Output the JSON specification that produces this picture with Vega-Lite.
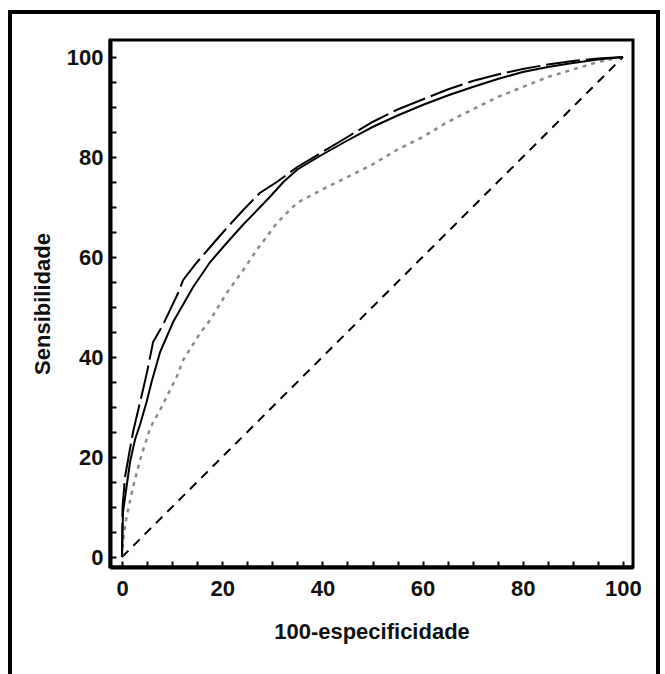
{
  "$schema": "https://vega.github.io/schema/vega-lite/v6.json",
  "autosize": "none",
  "width": 523,
  "height": 527,
  "padding": {"left": 110, "top": 40, "right": 32, "bottom": 107},
  "background": "white",
  "config": {
    "view": {"stroke": "black", "strokeWidth": 3},
    "font": "Liberation Sans",
    "axis": {
      "domain": true,
      "domainColor": "black",
      "domainWidth": 4,
      "grid": false,
      "tickColor": "black",
      "tickWidth": 2,
      "tickSize": -6,
      "labelColor": "#111",
      "labelFont": "Liberation Sans",
      "labelFontSize": 22,
      "labelFontWeight": "bold",
      "titleFont": "Liberation Sans",
      "titleFontSize": 22,
      "titleFontWeight": "bold",
      "titleColor": "#111"
    }
  },
  "datasets": {
    "curves": [
      {"serie": "solida", "x": 0, "y": 0},
      {"serie": "solida", "x": 0.2, "y": 9},
      {"serie": "solida", "x": 0.9, "y": 14},
      {"serie": "solida", "x": 1.6, "y": 19},
      {"serie": "solida", "x": 2.6, "y": 23.5},
      {"serie": "solida", "x": 3.6, "y": 26.5},
      {"serie": "solida", "x": 4.9, "y": 31},
      {"serie": "solida", "x": 5.9, "y": 35},
      {"serie": "solida", "x": 7.6, "y": 41},
      {"serie": "solida", "x": 10.2, "y": 47},
      {"serie": "solida", "x": 14.2, "y": 54},
      {"serie": "solida", "x": 17.6, "y": 59},
      {"serie": "solida", "x": 20.9, "y": 62.8},
      {"serie": "solida", "x": 24.2, "y": 66.5},
      {"serie": "solida", "x": 27, "y": 69.4},
      {"serie": "solida", "x": 29.5, "y": 72},
      {"serie": "solida", "x": 32.2, "y": 75},
      {"serie": "solida", "x": 35, "y": 77.5},
      {"serie": "solida", "x": 40, "y": 80.5},
      {"serie": "solida", "x": 45, "y": 83.3},
      {"serie": "solida", "x": 50, "y": 86},
      {"serie": "solida", "x": 55, "y": 88.3},
      {"serie": "solida", "x": 60, "y": 90.4},
      {"serie": "solida", "x": 65, "y": 92.3},
      {"serie": "solida", "x": 70, "y": 94},
      {"serie": "solida", "x": 75, "y": 95.6},
      {"serie": "solida", "x": 80, "y": 97},
      {"serie": "solida", "x": 85, "y": 98},
      {"serie": "solida", "x": 90, "y": 98.8},
      {"serie": "solida", "x": 95, "y": 99.5},
      {"serie": "solida", "x": 100, "y": 100},
      {"serie": "tracejada", "x": 0, "y": 0},
      {"serie": "tracejada", "x": 0.1, "y": 10},
      {"serie": "tracejada", "x": 0.6, "y": 16},
      {"serie": "tracejada", "x": 1.3, "y": 20},
      {"serie": "tracejada", "x": 2.2, "y": 25},
      {"serie": "tracejada", "x": 2.9, "y": 28},
      {"serie": "tracejada", "x": 4.2, "y": 33.5},
      {"serie": "tracejada", "x": 5, "y": 37},
      {"serie": "tracejada", "x": 6.2, "y": 43},
      {"serie": "tracejada", "x": 8.2, "y": 46.5},
      {"serie": "tracejada", "x": 11.2, "y": 52.8},
      {"serie": "tracejada", "x": 12.2, "y": 55.4},
      {"serie": "tracejada", "x": 15, "y": 59},
      {"serie": "tracejada", "x": 17.6, "y": 62},
      {"serie": "tracejada", "x": 20.2, "y": 65},
      {"serie": "tracejada", "x": 24.2, "y": 69.4},
      {"serie": "tracejada", "x": 27.5, "y": 72.8},
      {"serie": "tracejada", "x": 30.9, "y": 75},
      {"serie": "tracejada", "x": 35, "y": 78},
      {"serie": "tracejada", "x": 40, "y": 81},
      {"serie": "tracejada", "x": 45, "y": 84},
      {"serie": "tracejada", "x": 50, "y": 87},
      {"serie": "tracejada", "x": 55, "y": 89.5},
      {"serie": "tracejada", "x": 60, "y": 91.5},
      {"serie": "tracejada", "x": 65, "y": 93.5},
      {"serie": "tracejada", "x": 70, "y": 95.2},
      {"serie": "tracejada", "x": 75, "y": 96.5},
      {"serie": "tracejada", "x": 80, "y": 97.6},
      {"serie": "tracejada", "x": 85, "y": 98.5},
      {"serie": "tracejada", "x": 90, "y": 99.2},
      {"serie": "tracejada", "x": 95, "y": 99.7},
      {"serie": "tracejada", "x": 100, "y": 100},
      {"serie": "pontilhada", "x": 0, "y": 0},
      {"serie": "pontilhada", "x": 0.3, "y": 4},
      {"serie": "pontilhada", "x": 0.9, "y": 8},
      {"serie": "pontilhada", "x": 2.2, "y": 14},
      {"serie": "pontilhada", "x": 3.6, "y": 19.4},
      {"serie": "pontilhada", "x": 5.6, "y": 25.8},
      {"serie": "pontilhada", "x": 7.6, "y": 29.4},
      {"serie": "pontilhada", "x": 10.9, "y": 36},
      {"serie": "pontilhada", "x": 12.2, "y": 39.4},
      {"serie": "pontilhada", "x": 15.6, "y": 44.8},
      {"serie": "pontilhada", "x": 17.6, "y": 47.4},
      {"serie": "pontilhada", "x": 20.9, "y": 52.8},
      {"serie": "pontilhada", "x": 24.2, "y": 57.4},
      {"serie": "pontilhada", "x": 26.9, "y": 61.4},
      {"serie": "pontilhada", "x": 30.9, "y": 66.8},
      {"serie": "pontilhada", "x": 34.9, "y": 70.8},
      {"serie": "pontilhada", "x": 40, "y": 73.5},
      {"serie": "pontilhada", "x": 45, "y": 76},
      {"serie": "pontilhada", "x": 50, "y": 78.5},
      {"serie": "pontilhada", "x": 55, "y": 81.5},
      {"serie": "pontilhada", "x": 60, "y": 84},
      {"serie": "pontilhada", "x": 65, "y": 87},
      {"serie": "pontilhada", "x": 70, "y": 89.5},
      {"serie": "pontilhada", "x": 75, "y": 92},
      {"serie": "pontilhada", "x": 80, "y": 94},
      {"serie": "pontilhada", "x": 85, "y": 96},
      {"serie": "pontilhada", "x": 90, "y": 97.5},
      {"serie": "pontilhada", "x": 95, "y": 99},
      {"serie": "pontilhada", "x": 100, "y": 100},
      {"serie": "diagonal", "x": 0, "y": 0},
      {"serie": "diagonal", "x": 100, "y": 100}
    ]
  },
  "data": {"name": "curves"},
  "encoding": {
    "x": {
      "field": "x", "type": "quantitative",
      "scale": {"domain": [-2.4, 102], "nice": false, "zero": false},
      "axis": {
        "title": "100-especificidade",
        "values": [0,5,10,15,20,25,30,35,40,45,50,55,60,65,70,75,80,85,90,95,100],
        "labelExpr": "datum.value % 20 === 0 ? datum.label : ''",
        "labelPadding": 17,
        "titlePadding": 22
      }
    },
    "y": {
      "field": "y", "type": "quantitative",
      "scale": {"domain": [-2, 103.4], "nice": false, "zero": false},
      "axis": {
        "title": "Sensibilidade",
        "values": [0,5,10,15,20,25,30,35,40,45,50,55,60,65,70,75,80,85,90,95,100],
        "labelExpr": "datum.value % 20 === 0 ? datum.label : ''",
        "labelPadding": 13,
        "titlePadding": 12
      }
    }
  },
  "layer": [
    {
      "mark": {"type": "rect", "filled": false, "stroke": "black", "strokeWidth": 2.5, "clip": false},
      "encoding": {
        "x": {"datum": -22.4},
        "x2": {"datum": 107},
        "y": {"datum": 109},
        "y2": {"datum": -24}
      }
    },
    {
      "transform": [{"filter": "datum.serie === 'diagonal'"}],
      "mark": {"type": "line", "color": "black", "strokeWidth": 2, "strokeDash": [9, 7]}
    },
    {
      "transform": [{"filter": "datum.serie === 'pontilhada'"}],
      "mark": {"type": "line", "color": "#8a8a8a", "strokeWidth": 2.5, "strokeDash": [4, 5]}
    },
    {
      "transform": [{"filter": "datum.serie === 'solida'"}],
      "mark": {"type": "line", "color": "black", "strokeWidth": 2}
    },
    {
      "transform": [{"filter": "datum.serie === 'tracejada'"}],
      "mark": {"type": "line", "color": "black", "strokeWidth": 2, "strokeDash": [34, 6]}
    }
  ]
}
